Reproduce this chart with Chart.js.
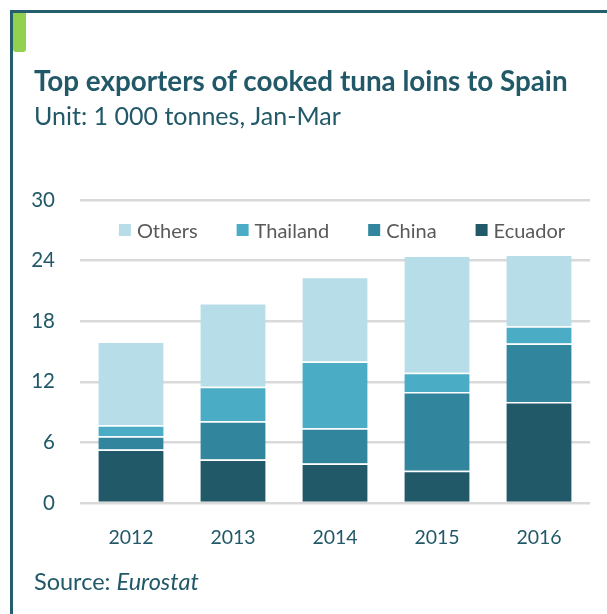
<!DOCTYPE html>
<html>
<head>
<meta charset="utf-8">
<script src="https://cdn.jsdelivr.net/npm/chart.js@4.4.1/dist/chart.umd.min.js"></script>
<style>
  html, body { margin: 0; padding: 0; background: #ffffff; }
  body { width: 607px; height: 614px; position: relative; overflow: hidden; font-family: Lato, "Open Sans", sans-serif; }
  #frame { position: absolute; left: 10px; top: 10px; right: -10px; bottom: -10px; border-left: 3px solid #255e6d; border-top: 3px solid #255e6d; }
  #tab { position: absolute; left: 13px; top: 13px; width: 13px; height: 39px; background: #92d050; border-radius: 0 0 3px 3px; }
  #title { position: absolute; left: 34px; top: 67px; font-weight: 700; font-size: 27.8px; line-height: 1; color: #215968; white-space: nowrap; }
  #subtitle { position: absolute; left: 34px; top: 103px; font-size: 25px; line-height: 1; color: #215968; white-space: nowrap; }
  #source { position: absolute; left: 34px; top: 570px; font-size: 23.5px; line-height: 1; color: #215968; white-space: nowrap; }
  #c { position: absolute; left: 0; top: 0; }
</style>
</head>
<body>
<div id="frame"></div>
<div id="tab"></div>
<canvas id="c" width="607" height="614"></canvas>
<div id="title">Top exporters of cooked tuna loins to Spain</div>
<div id="subtitle">Unit: 1 000 tonnes, Jan-Mar</div>
<div id="source">Source: <i>Eurostat</i></div>
<script>
const categories = ["2012", "2013", "2014", "2015", "2016"];
const ecuador  = [5.3, 4.3, 3.9, 3.2, 10.0];
const china    = [1.3, 3.8, 3.5, 7.8, 5.8];
const thailand = [1.1, 3.4, 6.6, 1.9, 1.7];
const others   = [8.3, 8.3, 8.4, 11.6, 7.1];
const yTicks   = [0, 6, 12, 18, 24, 30];
const legendOrder = ["Others", "Thailand", "China", "Ecuador"];

const colors = { Ecuador: "#225968", China: "#31869e", Thailand: "#4bacc6", Others: "#b7dde8" };

function ds(label, data) {
  return {
    label, data,
    backgroundColor: colors[label],
    borderColor: "#ffffff",
    borderWidth: { top: 1.5, left: 0, right: 0, bottom: 0 },
    borderSkipped: false,
    barPercentage: 0.64,
    categoryPercentage: 1.0
  };
}

const legendPlugin = {
  id: "innerLegend",
  afterDatasetsDraw(chart) {
    const ctx = chart.ctx;
    const area = chart.chartArea;
    const font = "400 20px Lato, 'Open Sans', sans-serif";
    ctx.save();
    ctx.font = font;
    const box = 12, gapText = 6, gapItem = 39;
    const items = legendOrder.map(name => {
      const d = chart.data.datasets.find(x => x.label === name);
      return { name, color: d.backgroundColor, w: ctx.measureText(name).width };
    });
    let total = items.reduce((s, it) => s + box + gapText + it.w, 0) + gapItem * (items.length - 1);
    let x = (area.left + area.right) / 2 + 7 - total / 2;
    const cy = area.top + 31;
    ctx.textBaseline = "middle";
    ctx.textAlign = "left";
    items.forEach(it => {
      ctx.fillStyle = it.color;
      ctx.fillRect(x, cy - box / 2 - 1, box, box);
      ctx.fillStyle = "#595959";
      ctx.fillText(it.name, x + box + gapText, cy + 1);
      x += box + gapText + it.w + gapItem;
    });
    ctx.restore();
  }
};

new Chart(document.getElementById("c"), {
  type: "bar",
  data: {
    labels: categories,
    datasets: [ds("Ecuador", ecuador), ds("China", china), ds("Thailand", thailand), ds("Others", others)]
  },
  plugins: [legendPlugin],
  options: {
    responsive: false,
    animation: false,
    devicePixelRatio: 1,
    layout: { padding: { top: 200, left: 0, right: 17, bottom: 0 } },
    plugins: { legend: { display: false }, tooltip: { enabled: false }, title: { display: false } },
    scales: {
      x: {
        stacked: true,
        grid: { display: false, drawTicks: false },
        border: { display: false },
        ticks: { color: "#215968", font: { family: "Lato, 'Open Sans', sans-serif", size: 19.5 }, padding: 23, maxRotation: 0 },
        afterFit(scale) { scale.height = 111; }
      },
      y: {
        stacked: true,
        min: 0, max: 30,
        afterBuildTicks(scale) { scale.ticks = yTicks.map(v => ({ value: v })); },
        grid: { color: "#d9d9d9", lineWidth: 2.5, drawTicks: false },
        border: { display: false },
        ticks: { color: "#215968", font: { family: "Lato, 'Open Sans', sans-serif", size: 20.5 }, padding: 25 },
        afterFit(scale) { scale.width = 80; }
      }
    }
  }
});
</script>
</body>
</html>
